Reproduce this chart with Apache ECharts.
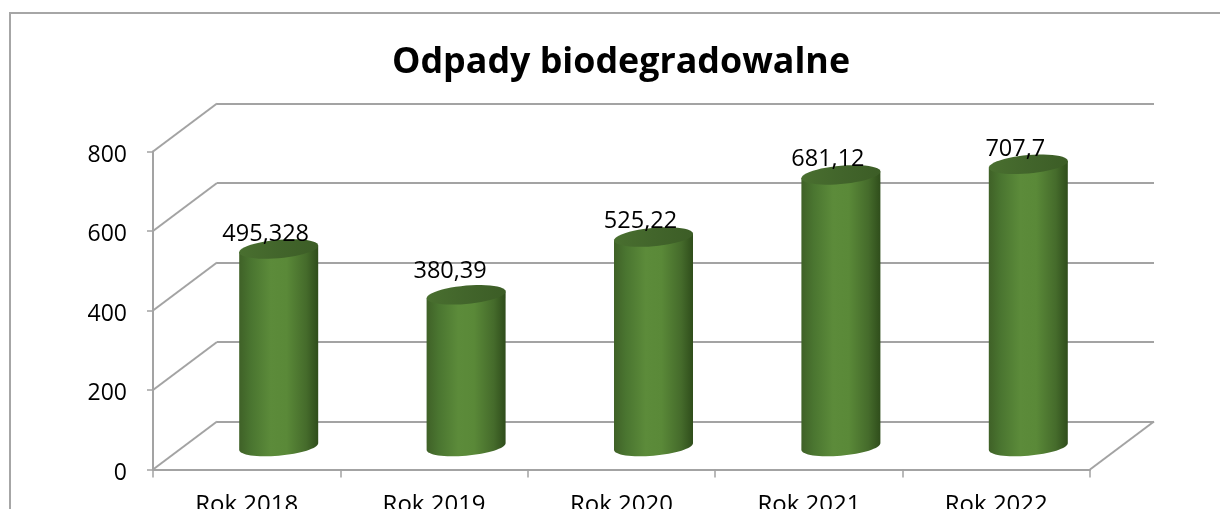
<!DOCTYPE html>
<html>
<head>
<meta charset="utf-8">
<style>html,body{margin:0;padding:0;background:#fff}#c{width:1220px;height:509px}</style>
<script src="https://cdn.jsdelivr.net/npm/echarts@6/dist/echarts.min.js"></script>
</head>
<body>
<div id="c"></div>
<script>
const titleText = 'Odpady biodegradowalne';
const categories = ['Rok 2018', 'Rok 2019', 'Rok 2020', 'Rok 2021', 'Rok 2022'];
const values = [495.328, 380.39, 525.22, 681.12, 707.7];
const yTicks = [0, 200, 400, 600, 800];

const labelRaise = [15, 24, 16, 16, 15];
const labelShift = [-13, -16, -13, -13, -13];
const AXIS = '#a3a3a3';
const FONT = '"Open Sans", sans-serif';
const DEPTH_X = 64, DEPTH_Y = -48;
const RX = 39.5, RY = 9.2, SHEAR = 0.085;

function ellipsePt(cx, cy, t) {
  const c = Math.cos(t), s = Math.sin(t);
  return [cx + RX * c, cy - SHEAR * RX * c + RY * s];
}
function ring(cx, cy, from, to, n) {
  const pts = [];
  for (let i = 0; i <= n; i++) pts.push(ellipsePt(cx, cy, from + (to - from) * i / n));
  return pts;
}
const bodyFill = new echarts.graphic.LinearGradient(0, 0, 1, 0, [
  { offset: 0, color: '#3f6127' }, { offset: 0.15, color: '#4a7530' },
  { offset: 0.4, color: '#5c8b3a' }, { offset: 0.6, color: '#5a8938' },
  { offset: 0.85, color: '#456b2b' }, { offset: 1, color: '#2f4d1b' }
]);
const capFill = new echarts.graphic.LinearGradient(0, 0, 1, 0, [
  { offset: 0, color: '#496f2f' }, { offset: 0.5, color: '#42652b' }, { offset: 1, color: '#3c5d26' }
]);

function renderCylinder(params, api) {
  const i = params.dataIndex;
  const top = api.coord([i, api.value(1)]);
  const base = api.coord([i, 0]);
  const cx = top[0];
  const body = [ellipsePt(cx, top[1], Math.PI), ellipsePt(cx, top[1], 0)]
    .concat(ring(cx, base[1], 0, Math.PI, 32));
  return {
    type: 'group',
    children: [
      { type: 'polygon', shape: { points: body }, style: { fill: bodyFill } },
      { type: 'polygon', shape: { points: ring(cx, top[1], 0, Math.PI * 2, 48) }, style: { fill: capFill } },
      { type: 'text', z2: 10, style: {
          x: cx + labelShift[i], y: top[1] - labelRaise[i],
          text: String(values[i]).replace('.', ','),
          align: 'center', verticalAlign: 'middle',
          font: '23.5px ' + FONT, fill: '#000'
      } }
    ]
  };
}
function renderDiagonal(params, api) {
  const cs = params.coordSys;
  const y = api.coord([0, api.value(0)])[1];
  const out = [{ type: 'line', shape: { x1: cs.x, y1: y, x2: cs.x + DEPTH_X, y2: y + DEPTH_Y },
    style: { stroke: AXIS, lineWidth: 2 } }];
  if (api.value(0) === 0) {
    out.push({ type: 'line', shape: { x1: cs.x + cs.width, y1: y, x2: cs.x + cs.width + DEPTH_X, y2: y + DEPTH_Y },
      style: { stroke: AXIS, lineWidth: 2 } });
  }
  return { type: 'group', children: out };
}

const chart = echarts.init(document.getElementById('c'), null, { renderer: 'canvas' });
chart.setOption({
  animation: false,
  backgroundColor: '#fff',
  title: {
    text: titleText, left: 616, top: 40, textAlign: 'center',
    textStyle: { fontFamily: FONT, fontWeight: 'bold', fontSize: 35.8, color: '#000' }
  },
  graphic: [{
    type: 'polyline', silent: true,
    shape: { points: [[10, 520], [10, 13], [1225, 13]] },
    style: { stroke: '#a6a6a6', lineWidth: 2, fill: null }
  }],
  grid: [
    { left: 153, width: 937, top: 151.5, height: 318, outerBoundsMode: 'none' },
    { left: 217, width: 937, top: 103.5, height: 318, outerBoundsMode: 'none' },
    { left: 185, width: 937, top: 127.5, height: 319, outerBoundsMode: 'none' }
  ],
  xAxis: [
    { gridIndex: 0, type: 'category', data: categories,
      axisLine: { lineStyle: { color: AXIS, width: 2 } },
      axisTick: { show: true, length: 8, alignWithLabel: false, lineStyle: { color: AXIS, width: 1.5 } },
      axisLabel: { color: '#000', fontFamily: FONT, fontSize: 24, margin: 24, interval: 0 } },
    { gridIndex: 1, type: 'category', data: categories, show: false },
    { gridIndex: 2, type: 'category', data: categories, show: false }
  ],
  yAxis: [
    { gridIndex: 0, type: 'value', min: 0, max: 800, interval: 200,
      splitLine: { show: false },
      axisLine: { show: true, lineStyle: { color: AXIS, width: 2 } },
      axisTick: { show: true, length: 6, lineStyle: { color: AXIS, width: 1.5 } },
      axisLabel: { margin: 26, formatter: '{n|{value}}',
        rich: { n: { color: '#000', fontFamily: FONT, fontSize: 23, padding: [7, 0, 0, 0] } } } },
    { gridIndex: 1, type: 'value', min: 0, max: 800, interval: 200,
      axisLine: { show: false }, axisTick: { show: false }, axisLabel: { show: false },
      splitLine: { show: true, lineStyle: { color: AXIS, width: 2 } } },
    { gridIndex: 2, type: 'value', min: 0, max: 800, interval: 200, show: false, splitLine: { show: false } }
  ],
  series: [
    { type: 'custom', xAxisIndex: 0, yAxisIndex: 0, z: 1, silent: true,
      renderItem: renderDiagonal, data: yTicks.map(v => [v]), encode: { y: 0 }, clip: false },
    { type: 'custom', xAxisIndex: 2, yAxisIndex: 2, z: 5, silent: true,
      renderItem: renderCylinder, data: values.map((v, i) => [i, v]), encode: { x: 0, y: 1 }, clip: false }
  ]
});
</script>
</body>
</html>
